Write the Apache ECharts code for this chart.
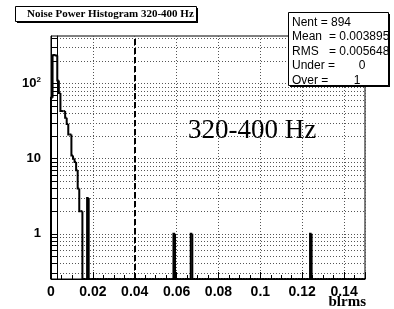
<!DOCTYPE html>
<html>
<head>
<meta charset="utf-8">
<script src="https://cdn.jsdelivr.net/npm/echarts@6/dist/echarts.min.js"></script>
<style>
  html, body { margin: 0; padding: 0; background: #fff; }
  #chart { width: 394px; height: 309px; }
</style>
</head>
<body>
<div id="chart"></div>
<script>
// histogram: 200 bins over [0, 0.15]
const binWidth = 0.00075;
const binIndex = [0, 1, 2, 3, 4, 5, 6, 7, 8, 9, 10, 11, 12, 13, 14, 15, 16, 17, 18, 19, 23, 78, 89, 165];
const binCount = [65, 238, 240, 236, 110, 75, 43, 43, 43, 35, 29, 21, 21, 11, 10, 9, 7, 4, 2, 2, 3, 1, 1, 1];
const cutValue = [0.035];

const xTicks = [0, 0.02, 0.04, 0.06, 0.08, 0.1, 0.12, 0.14];
const yLabels = [1, 10, 100];
const yMin = 0.25;
const yMax = 430;

const statNames = ["Nent", "Mean", "RMS", "Under", "Over"];
const statValues = ["= 894", "= 0.003895", "= 0.005648", "0", "1"];

const titleText = "Noise Power Histogram 320-400 Hz";
const bandText = "320-400 Hz";
const xName = "blrms";

const nBins = 200;
const counts = new Array(nBins).fill(0);
binIndex.forEach((b, i) => { counts[b] = binCount[i]; });
const histData = counts.map((c, i) => [i * binWidth, (i + 1) * binWidth, c, i > 0 ? counts[i - 1] : 0]);

// log grid positions (1..9 x decade) in log10 space
const logGrid = [];
for (let e = -1; e <= 2; e++) {
  for (let m = 1; m <= 9; m++) {
    const v = m * Math.pow(10, e);
    if (v >= yMin && v <= yMax) logGrid.push(Math.log10(v));
  }
}

const chart = echarts.init(document.getElementById("chart"));
const dotted = { color: "#555", width: 1, type: [1, 2] };
const statFont = "12px 'Liberation Sans'";

const option = {
  animation: false,
  grid: { left: 51, right: 29, top: 36, bottom: 30, show: true, borderColor: "#000", borderWidth: 1 },
  xAxis: {
    type: "value",
    min: 0,
    max: 0.15,
    interval: 0.02,
    axisLine: { onZero: false, lineStyle: { color: "#000", width: 1 } },
    axisTick: { inside: true, length: 7, lineStyle: { color: "#000" } },
    minorTick: { show: true, splitNumber: 4, length: 4, lineStyle: { color: "#000" } },
    splitLine: { show: true, lineStyle: dotted },
    axisLabel: {
      showMaxLabel: false,
      margin: 6,
      color: "#000",
      fontFamily: "Liberation Sans",
      fontWeight: "bold",
      fontSize: 14,
      formatter: (v) => (xTicks.some((t) => Math.abs(t - v) < 1e-9) ? String(+v.toFixed(2)) : ""),
    },
  },
  yAxis: [
    {
      type: "log",
      min: yMin,
      max: yMax,
      axisLine: { show: true, onZero: false, lineStyle: { color: "#000", width: 1 } },
      axisTick: { show: false },
      axisLabel: { show: false },
      splitLine: { show: false },
    },
    {
      type: "value",
      position: "left",
      min: Math.log10(yMin),
      max: Math.log10(yMax),
      axisLine: { show: false, onZero: false },
      axisTick: { show: true, inside: true, length: 6, customValues: logGrid, lineStyle: { color: "#000" } },
      splitLine: { show: true, lineStyle: dotted },
      axisLabel: {
        customValues: yLabels.map((v) => Math.log10(v)),
        margin: 10,
        color: "#000",
        fontFamily: "Liberation Sans",
        fontWeight: "bold",
        fontSize: 13,
        formatter: (v) => {
          const e = Math.round(v);
          return e >= 2 ? "10{s|" + e + "}" : String(Math.pow(10, e));
        },
        rich: {
          s: { fontSize: 8, fontWeight: "bold", fontFamily: "Liberation Sans", color: "#000", verticalAlign: "top", padding: [0, 0, 8, 0] },
        },
      },
    },
    {
      type: "value",
      position: "left",
      offset: -6,
      min: 0,
      max: 1,
      axisLine: { show: true, onZero: false, lineStyle: { color: "#000", width: 1 } },
      axisTick: { show: false },
      axisLabel: { show: false },
      splitLine: { show: false },
    },
  ],
  series: [
    {
      type: "custom",
      xAxisIndex: 0,
      yAxisIndex: 0,
      data: histData,
      encode: { x: [0, 1], y: [2, 3] },
      z: 5,
      renderItem: (params, api) => {
        const x0 = api.value(0);
        const x1 = api.value(1);
        const c = Math.max(api.value(2), yMin);
        const p = Math.max(api.value(3), yMin);
        return {
          type: "polyline",
          shape: { points: [api.coord([x0, p]), api.coord([x0, c]), api.coord([x1, c])] },
          style: { stroke: "#000", lineWidth: 2, fill: null },
        };
      },
    },
    {
      type: "line",
      data: [],
      markLine: {
        silent: true,
        symbol: "none",
        label: { show: false },
        lineStyle: { color: "#000", width: 2, type: [6, 3] },
        data: cutValue.map((v) => ({ xAxis: v })),
      },
    },
  ],
  graphic: [
    // title pave
    { type: "rect", z: 100, shape: { x: 17, y: 8, width: 181, height: 15 }, style: { fill: "#000" } },
    { type: "rect", z: 101, shape: { x: 15.5, y: 6.5, width: 181, height: 15 }, style: { fill: "#fff", stroke: "#000", lineWidth: 1 } },
    {
      type: "text", z: 102, x: 27, y: 14.5,
      style: { text: titleText, font: "bold 11px 'Liberation Serif'", fill: "#000", textVerticalAlign: "middle" },
    },
    // stats box
    { type: "rect", z: 100, shape: { x: 290, y: 14, width: 100, height: 73 }, style: { fill: "#000" } },
    { type: "rect", z: 101, shape: { x: 288.5, y: 12.5, width: 100, height: 73 }, style: { fill: "#fff", stroke: "#000", lineWidth: 1 } },
    ...statNames.map((n, i) => ({
      type: "text", z: 102, x: 292, y: 22.5 + i * 14.5,
      style: { text: n + (i >= 3 ? " =" : (i === 0 ? " " + statValues[0] : "")), font: statFont, fill: "#000", textVerticalAlign: "middle" },
    })),
    ...[1, 2].map((i) => ({
      type: "text", z: 102, x: 329, y: 22.5 + i * 14.5,
      style: { text: statValues[i], font: statFont, fill: "#000", textVerticalAlign: "middle" },
    })),
    { type: "text", z: 102, x: 362, y: 66, style: { text: statValues[3], font: statFont, fill: "#000", textAlign: "center", textVerticalAlign: "middle" } },
    { type: "text", z: 102, x: 357, y: 80.5, style: { text: statValues[4], font: statFont, fill: "#000", textAlign: "center", textVerticalAlign: "middle" } },
    // band label and axis title
    { type: "text", z: 50, x: 188, y: 131, style: { text: bandText, font: "27px 'Liberation Serif'", fill: "#000", textVerticalAlign: "middle" } },
    { type: "text", z: 50, x: 366, y: 302, style: { text: xName, font: "bold 15px 'Liberation Serif'", fill: "#000", textAlign: "right", textVerticalAlign: "middle" } },
  ],
};

chart.setOption(option);
</script>
</body>
</html>
